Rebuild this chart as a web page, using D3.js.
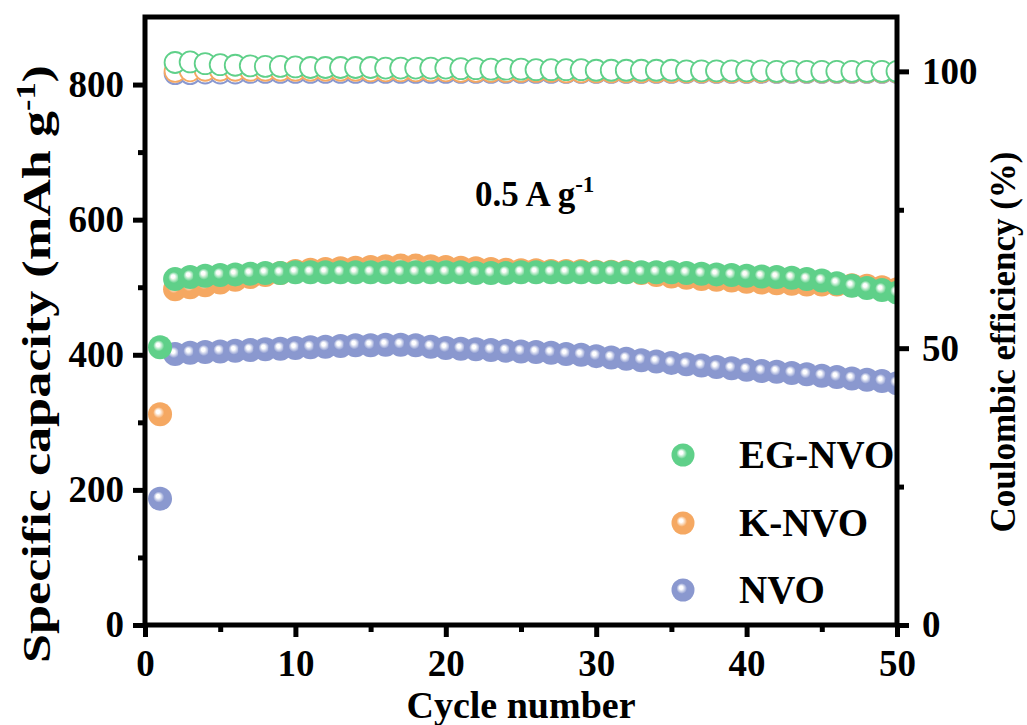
<!DOCTYPE html>
<html>
<head>
<meta charset="utf-8">
<script src="https://cdn.jsdelivr.net/npm/d3@7/dist/d3.min.js"></script>
<style>
  body { margin: 0; background: #fff; }
  text { font-family: "Liberation Serif", "Times New Roman", serif; font-weight: bold; fill: #000; }
</style>
</head>
<body>
<svg id="chart" width="1027" height="725"></svg>
<script>
// capacity, cycles 1..50 (mAh g-1)
const cycles = d3.range(1, 51);
const capEG = [411, 512, 515, 517, 518, 519, 520, 521, 521, 522,
  522, 522, 522, 522, 522, 522, 522, 522, 522, 522,
  522, 521, 521, 521, 522, 522, 522, 522, 522, 522,
  522, 522, 522, 522, 522, 521, 520, 519, 518, 517,
  516, 515, 514, 512, 510, 506, 502, 499, 496, 492];
const capK = [312, 497, 500, 503, 507, 511, 515, 518, 521, 524,
  526, 527, 528, 529, 530, 531, 532, 532, 531, 530,
  529, 528, 527, 526, 525, 525, 524, 524, 524, 523,
  523, 523, 521, 518, 516, 514, 512, 511, 510, 508,
  507, 506, 505, 504, 504, 504, 503, 502, 500, 497];
const capNVO = [187, 401, 403, 404, 405, 406, 407, 408, 409, 410,
  411, 412, 413, 414, 414, 415, 415, 414, 412, 410,
  409, 408, 407, 406, 405, 404, 403, 401, 400, 398,
  396, 394, 392, 390, 388, 386, 384, 382, 380, 378,
  376, 375, 373, 371, 369, 367, 365, 363, 361, 358];

// coulombic efficiency, cycles 2..50 (%)
const ceCycles = d3.range(2, 51);
const ceEG = [101.6, 101.7, 101.4, 101.2, 101.1, 101.0, 100.9, 100.9, 100.8,
  100.7, 100.7, 100.7, 100.7, 100.7, 100.6, 100.6, 100.6, 100.6, 100.6,
  100.5, 100.5, 100.4, 100.4, 100.4, 100.3, 100.3, 100.3, 100.3, 100.2,
  100.2, 100.2, 100.2, 100.2, 100.2, 100.1, 100.1, 100.1, 100.1, 100.1,
  100.1, 100.0, 100.0, 100.0, 100.0, 100.0, 100.0, 100.0, 100.0, 100.0];
const ceK = [100.0, 100.1, 100.2, 100.2, 100.2, 100.2, 100.2, 100.2, 100.2,
  100.2, 100.2, 100.2, 100.2, 100.1, 100.1, 100.1, 100.1, 100.1, 100.1,
  100.0, 100.0, 100.0, 100.0, 100.0, 100.0, 100.0, 99.9, 99.9, 99.9,
  99.9, 99.9, 99.9, 99.9, 99.9, 99.9, 99.9, 99.9, 99.9, 99.9,
  99.9, 99.9, 99.9, 99.9, 99.9, 99.9, 99.9, 99.9, 99.9, 99.9];
const ceNVO = [99.6, 99.6, 99.7, 99.7, 99.7, 99.8, 99.8, 99.8, 99.8,
  99.8, 99.8, 99.8, 99.8, 99.8, 99.8, 99.8, 99.8, 99.8, 99.8,
  99.8, 99.8, 99.8, 99.8, 99.8, 99.8, 99.8, 99.8, 99.8, 99.8,
  99.8, 99.8, 99.8, 99.8, 99.8, 99.8, 99.8, 99.8, 99.8, 99.8,
  99.8, 99.8, 99.8, 99.8, 99.8, 99.8, 99.8, 99.8, 99.8, 99.8];

const seriesNames = ["EG-NVO", "K-NVO", "NVO"];
const seriesColors = ["#5fd089", "#f5a862", "#8a98cf"];

const xTicks = [0, 10, 20, 30, 40, 50];
const xMinor = [5, 15, 25, 35, 45];
const yLTicks = [0, 200, 400, 600, 800];
const yLMinor = [100, 300, 500, 700];
const yRTicks = [0, 50, 100];
const yRMinor = [25, 75];

const L = 145, R = 897, T = 17, B = 625;

const svg = d3.select("#chart");
const x = d3.scaleLinear().domain([0, 50]).range([L, R]);
const yL = d3.scaleLinear().domain([0, 900]).range([B, T]);
const yR = d3.scaleLinear().domain([0, 110]).range([B, 16]);

const defs = svg.append("defs");
defs.append("clipPath").attr("id", "plotclip")
  .append("rect").attr("x", L).attr("y", T).attr("width", R - L).attr("height", B - T);

// shiny ball gradients
seriesColors.forEach((c, i) => {
  const g = defs.append("radialGradient").attr("id", "ball" + i)
    .attr("cx", "50%").attr("cy", "50%").attr("r", "50%")
    .attr("fx", "40%").attr("fy", "38%");
  g.append("stop").attr("offset", "0%").attr("stop-color", "#ffffff");
  g.append("stop").attr("offset", "15%").attr("stop-color", "#ffffff").attr("stop-opacity", 0.95);
  g.append("stop").attr("offset", "46%").attr("stop-color", c);
  g.append("stop").attr("offset", "100%").attr("stop-color", c);
});

const plot = svg.append("g").attr("clip-path", "url(#plotclip)");

// coulombic efficiency (open circles)
const ceSets = [ceNVO, ceK, ceEG];
const ceCols = [seriesColors[2], seriesColors[1], seriesColors[0]];
ceSets.forEach((arr, k) => {
  plot.append("g").selectAll("circle")
    .data(arr)
    .enter().append("circle")
    .attr("cx", (d, i) => x(ceCycles[i]))
    .attr("cy", d => yR(d))
    .attr("r", 10.5)
    .attr("fill", "#fff")
    .attr("stroke", ceCols[k])
    .attr("stroke-width", 1.8);
});

// capacity (filled balls)
const capSets = [capNVO, capK, capEG];
const capIdx = [2, 1, 0];
capSets.forEach((arr, k) => {
  plot.append("g").selectAll("circle")
    .data(arr)
    .enter().append("circle")
    .attr("cx", (d, i) => x(cycles[i]))
    .attr("cy", d => yL(d))
    .attr("r", 12)
    .attr("fill", "url(#ball" + capIdx[k] + ")");
});

// axes
function styleAxis(g) {
  g.select(".domain").remove();
  g.selectAll(".tick line").attr("stroke", "#000").attr("stroke-width", 5);
  g.selectAll(".tick text").style("font-size", "37px").style("font-family", "'Liberation Serif', serif").style("font-weight", "bold");
}

svg.append("g").attr("transform", `translate(0,${B})`)
  .call(d3.axisBottom(x).tickValues(xTicks).tickSize(12).tickPadding(13).tickFormat(d3.format("d")))
  .call(styleAxis);
svg.append("g").attr("transform", `translate(0,${B})`)
  .call(d3.axisBottom(x).tickValues(xMinor).tickSize(7).tickFormat(""))
  .call(styleAxis);

svg.append("g").attr("transform", `translate(${L},0)`)
  .call(d3.axisLeft(yL).tickValues(yLTicks).tickSize(12).tickPadding(9).tickFormat(d3.format("d")))
  .call(styleAxis);
svg.append("g").attr("transform", `translate(${L},0)`)
  .call(d3.axisLeft(yL).tickValues(yLMinor).tickSize(7).tickFormat(""))
  .call(styleAxis);

svg.append("g").attr("transform", `translate(${R},0)`)
  .call(d3.axisRight(yR).tickValues(yRTicks).tickSize(12).tickPadding(13).tickFormat(d3.format("d")))
  .call(styleAxis);
svg.append("g").attr("transform", `translate(${R},0)`)
  .call(d3.axisRight(yR).tickValues(yRMinor).tickSize(7).tickFormat(""))
  .call(styleAxis);

// frame
svg.append("rect")
  .attr("x", L).attr("y", T).attr("width", R - L).attr("height", B - T)
  .attr("fill", "none").attr("stroke", "#000").attr("stroke-width", 5);

// axis titles
svg.append("text")
  .attr("x", (L + R) / 2).attr("y", 718)
  .attr("text-anchor", "middle")
  .style("font-size", "38px")
  .text("Cycle number");

const lt = svg.append("text")
  .attr("transform", "translate(50,364) rotate(-90)")
  .attr("text-anchor", "middle")
  .attr("textLength", 598)
  .attr("lengthAdjust", "spacingAndGlyphs")
  .style("font-size", "41px");
lt.append("tspan").text("Specific capacity (mAh g");
lt.append("tspan").attr("dy", -15).style("font-size", "27px").text("-1");
lt.append("tspan").attr("dy", 15).text(")");

svg.append("text")
  .attr("transform", "translate(1015,342) rotate(-90)")
  .attr("text-anchor", "middle")
  .style("font-size", "35px")
  .text("Coulombic efficiency (%)");

// annotation
const ann = svg.append("text")
  .attr("x", 475).attr("y", 206)
  .style("font-size", "35px");
ann.append("tspan").text("0.5 A g");
ann.append("tspan").attr("dy", -14).style("font-size", "23px").text("-1");

// legend
const legendY = [455, 523, 590];
const leg = svg.append("g");
seriesNames.forEach((n, i) => {
  leg.append("circle")
    .attr("cx", 683).attr("cy", legendY[i]).attr("r", 11.5)
    .attr("fill", "url(#ball" + i + ")");
  leg.append("text")
    .attr("x", 739).attr("y", legendY[i] + 13)
    .style("font-size", "39px")
    .text(n);
});
</script>
</body>
</html>
